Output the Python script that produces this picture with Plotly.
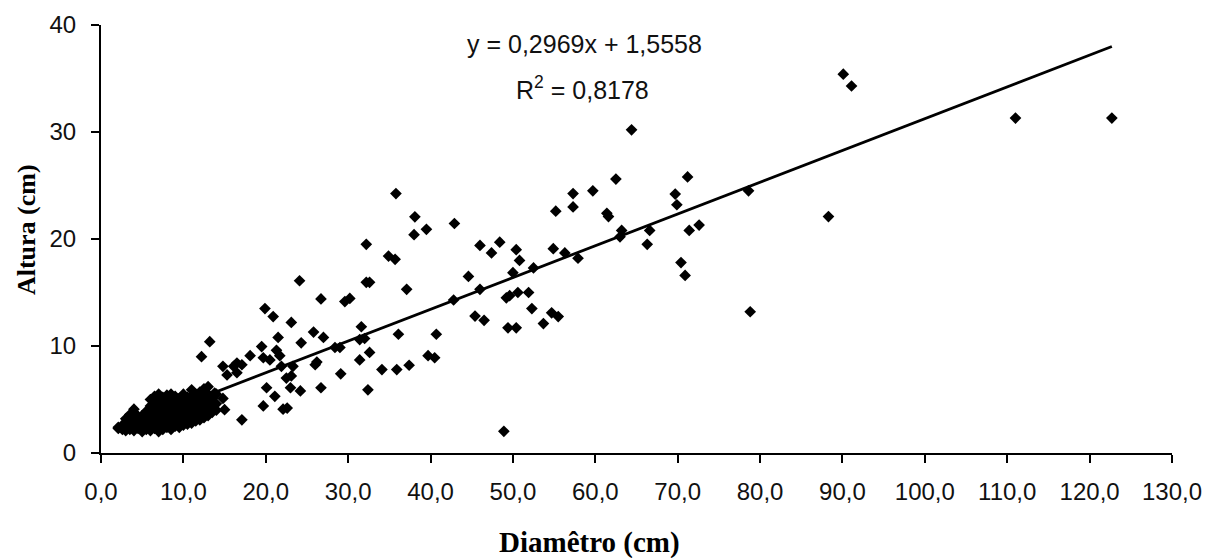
import plotly.graph_objects as go

# ---- data ----
# dense cluster of small plants (x = diâmetro, y = altura)
cluster_diam = [2.1, 2.1, 2.6, 2.6, 3.0, 3.0, 3.0, 3.5, 3.5, 3.5,
                4.0, 4.0, 4.0, 4.0, 4.0, 4.5, 4.5, 4.5, 5.0, 5.0, 5.0, 5.0,
                5.5, 5.5, 5.5, 5.5, 6.0, 6.0, 6.0, 6.0, 6.0, 6.0,
                6.5, 6.5, 6.5, 6.5, 6.5, 6.5, 7.0, 7.0, 7.0, 7.0, 7.0, 7.0, 7.0,
                7.5, 7.5, 7.5, 7.5, 7.5, 7.5, 8.0, 8.0, 8.0, 8.0, 8.0, 8.0,
                8.5, 8.5, 8.5, 8.5, 8.5, 8.5, 8.5, 9.0, 9.0, 9.0, 9.0, 9.0, 9.0,
                9.5, 9.5, 9.5, 9.5, 9.5, 9.5, 10.0, 10.0, 10.0, 10.0, 10.0, 10.0,
                10.5, 10.5, 10.5, 10.5, 10.5, 11.0, 11.0, 11.0, 11.0, 11.0, 11.0,
                11.5, 11.5, 11.5, 11.5, 11.5, 12.0, 12.0, 12.0, 12.0, 12.0,
                12.5, 12.5, 12.5, 12.5, 12.5, 13.0, 13.0, 13.0, 13.0, 13.0,
                13.5, 13.5, 13.5, 14.0, 14.0, 14.0]
cluster_alt = [2.3, 2.4, 2.2, 2.6, 2.1, 2.7, 3.2, 2.2, 2.8, 3.6,
               2.1, 2.6, 3.1, 3.8, 4.1, 2.3, 2.9, 3.4, 2.0, 2.5, 3.0, 3.5,
               2.2, 2.8, 3.3, 3.9, 2.1, 2.6, 3.0, 3.6, 4.4, 5.0,
               2.3, 2.9, 3.4, 4.0, 4.7, 5.3, 2.0, 2.5, 3.1, 3.7, 4.3, 5.0, 5.5,
               2.2, 2.8, 3.3, 3.9, 4.5, 5.2, 2.4, 3.0, 3.5, 4.1, 4.8, 5.4,
               2.2, 2.7, 3.2, 3.8, 4.4, 5.0, 5.5, 2.5, 3.0, 3.6, 4.2, 4.7, 5.3,
               2.4, 2.9, 3.4, 4.0, 4.5, 5.1, 2.6, 3.2, 3.7, 4.3, 4.9, 5.5,
               2.7, 3.3, 3.9, 4.5, 5.2, 2.8, 3.4, 4.0, 4.6, 5.3, 5.9,
               3.0, 3.6, 4.2, 4.8, 5.5, 3.1, 3.8, 4.4, 5.0, 5.7,
               3.3, 4.0, 4.6, 5.3, 6.0, 3.5, 4.2, 4.8, 5.5, 6.2,
               3.8, 4.5, 5.1, 4.0, 4.6, 5.5]

# scattered individual points
scatter_diam = [12.2, 13.2, 14.8, 16.1, 16.5, 17.1, 15.3, 16.5, 18.1, 19.7,
                19.5, 19.9, 20.9, 21.5, 21.3, 21.7, 20.5, 21.9, 20.1, 21.1,
                19.7, 22.1, 22.5, 14.8, 15.0, 17.1, 13.8, 24.3, 22.6,
                35.8, 38.1, 39.5, 38.0, 42.9, 32.2, 34.9, 35.7, 32.2, 32.6,
                24.1, 26.7, 29.6, 30.2, 37.1, 23.1, 25.8, 27.0, 28.4, 29.0,
                31.6, 31.4, 32.0, 36.1, 40.7, 39.7, 40.5, 32.6, 31.4, 26.0,
                26.2, 29.1, 34.1, 35.9, 37.4, 32.4, 26.7, 23.1, 23.3, 24.2, 23.0,
                44.6, 46.0, 47.4, 48.4, 50.4, 50.8, 50.0, 52.5, 54.9, 55.2,
                57.3, 57.3, 56.3, 57.9, 42.8, 46.0, 45.4, 46.5, 49.2, 49.6,
                50.6, 51.9, 49.4, 50.4, 52.3, 53.7, 54.7, 55.5, 48.9,
                64.4, 62.5, 59.7, 61.4, 61.6, 63.2, 63.0, 66.6, 66.3, 69.7,
                69.9, 71.2, 71.4, 72.6, 70.4, 70.9, 78.6, 78.8, 88.3,
                90.1, 91.1, 111.0, 122.7]
scatter_alt = [9.0, 10.4, 8.1, 8.1, 8.4, 8.25, 7.3, 7.5, 9.1, 8.9,
               9.95, 13.5, 12.75, 10.8, 9.6, 9.1, 8.7, 8.1, 6.1, 5.3,
               4.4, 4.1, 7.0, 5.1, 4.05, 3.1, 5.6, 10.3, 4.2,
               24.25, 22.07, 20.9, 20.4, 21.45, 19.5, 18.4, 18.1, 15.95, 15.95,
               16.1, 14.4, 14.15, 14.45, 15.3, 12.2, 11.3, 10.8, 9.86, 9.86,
               11.8, 10.6, 10.7, 11.1, 11.1, 9.1, 8.9, 9.4, 8.7, 8.25,
               8.5, 7.4, 7.8, 7.8, 8.2, 5.9, 6.1, 7.2, 8.1, 5.8, 6.1,
               16.5, 19.4, 18.7, 19.7, 19.0, 18.0, 16.85, 17.3, 19.1, 22.6,
               24.25, 23.0, 18.7, 18.2, 14.3, 15.3, 12.8, 12.4, 14.5, 14.7,
               15.0, 15.0, 11.7, 11.7, 13.5, 12.1, 13.1, 12.75, 2.03,
               30.2, 25.6, 24.5, 22.4, 22.1, 20.8, 20.2, 20.8, 19.5, 24.2,
               23.2, 25.8, 20.8, 21.3, 17.8, 16.6, 24.5, 13.2, 22.1,
               35.4, 34.3, 31.3, 31.3]

# linear trendline coefficients (shown on the chart)
slope = 0.2969
intercept = 1.5558
r_squared = 0.8178

x_ticks = [0, 10, 20, 30, 40, 50, 60, 70, 80, 90, 100, 110, 120, 130]
x_tick_labels = ["0,0", "10,0", "20,0", "30,0", "40,0", "50,0", "60,0", "70,0",
                 "80,0", "90,0", "100,0", "110,0", "120,0", "130,0"]
y_ticks = [0, 10, 20, 30, 40]

diam = cluster_diam + scatter_diam
alt = cluster_alt + scatter_alt

line_x = [min(diam), max(diam)]
line_y = [slope * v + intercept for v in line_x]

fig = go.Figure()
fig.add_trace(go.Scatter(
    x=diam, y=alt, mode="markers",
    marker=dict(symbol="diamond", size=9, color="black", line=dict(width=0)),
    showlegend=False, hoverinfo="x+y"))
fig.add_trace(go.Scatter(
    x=line_x, y=line_y, mode="lines",
    line=dict(color="black", width=2.8),
    showlegend=False, hoverinfo="skip"))

eq_font = dict(family="Liberation Sans, Arial, sans-serif", size=25, color="#111")
fig.add_annotation(
    x=0.4516, y=0.9545, xref="paper", yref="paper", xanchor="center", yanchor="middle",
    text="y = 0,2969x + 1,5558", showarrow=False, font=eq_font)
fig.add_annotation(
    x=0.4496, y=0.853, xref="paper", yref="paper", xanchor="center", yanchor="middle",
    text="R<sup>2</sup> = 0,8178", showarrow=False, font=eq_font)

title_font_x = dict(family="Liberation Serif, Times New Roman, serif", size=29, color="black")
title_font_y = dict(family="Liberation Serif, Times New Roman, serif", size=26, color="black")
fig.add_annotation(
    x=0.4557, y=-0.2086, xref="paper", yref="paper", xanchor="center", yanchor="middle",
    text="<b>Diamêtro (cm)</b>", showarrow=False, font=title_font_x)
fig.add_annotation(
    x=-0.070, y=0.521, xref="paper", yref="paper", xanchor="center", yanchor="middle",
    text="<b>Altura (cm)</b>", showarrow=False, textangle=-90, font=title_font_y)

tick_font = dict(family="Liberation Sans, Arial, sans-serif", size=24, color="#111")

fig.update_layout(
    width=1211, height=550,
    margin=dict(l=93, r=47, t=16.5, b=104.5, pad=0, autoexpand=False),
    paper_bgcolor="white", plot_bgcolor="white",
    xaxis=dict(
        range=[0, 130], tickmode="array", tickvals=x_ticks, ticktext=x_tick_labels,
        showgrid=False, zeroline=False, showline=True, linecolor="black", linewidth=2,
        ticks="outside", ticklen=8, tickwidth=2, tickcolor="black", automargin=False,
        tickfont=tick_font, ticklabelstandoff=8),
    yaxis=dict(
        range=[0, 40], tickmode="array", tickvals=y_ticks,
        showgrid=False, zeroline=False, showline=True, linecolor="black", linewidth=2,
        ticks="outside", ticklen=8, tickwidth=2, tickcolor="black", automargin=False,
        tickfont=tick_font, ticklabelstandoff=10),
)

fig.write_html("out.html")
